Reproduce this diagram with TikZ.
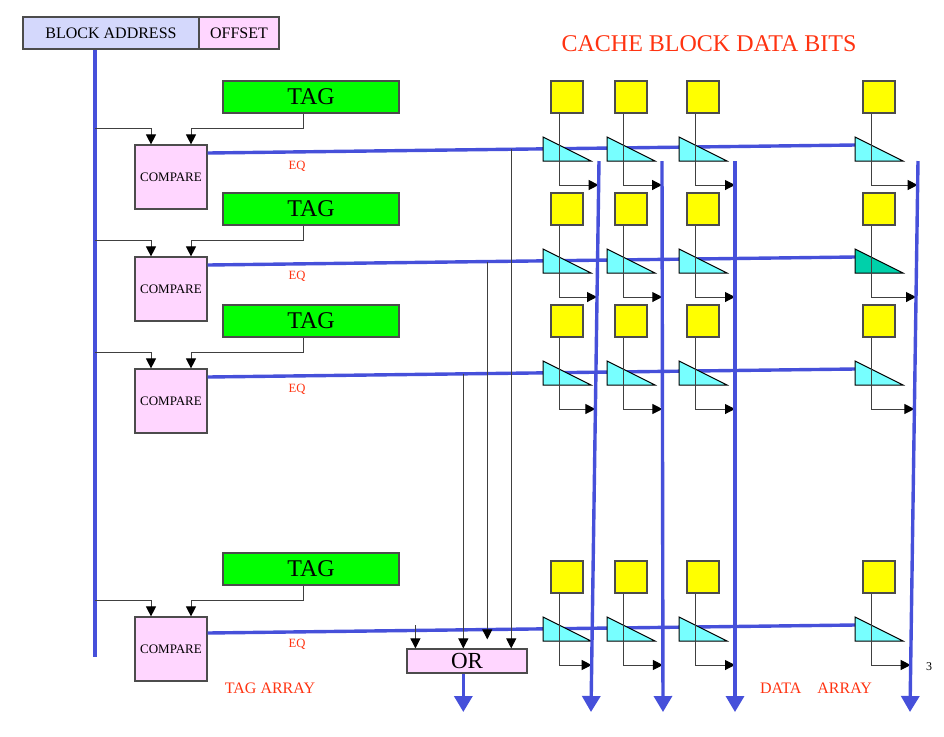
\documentclass[tikz,border=0pt]{standalone}
\usepackage{fontspec}
\setmainfont{Liberation Serif}
\usetikzlibrary{arrows.meta,calc}

\definecolor{busblue}{RGB}{70,80,218}
\definecolor{labelred}{RGB}{255,51,17}
\definecolor{addrfill}{RGB}{212,216,252}
\definecolor{pinkfill}{RGB}{255,214,255}
\definecolor{tagfill}{RGB}{0,255,0}
\definecolor{bitfill}{RGB}{255,255,0}
\definecolor{gatefill}{RGB}{119,255,255}
\definecolor{gatedark}{RGB}{0,208,170}

\tikzset{
  fieldbox/.style={draw=black!70, line width=0.6pt, inner sep=0pt},
  tagbox/.style={fieldbox, fill=tagfill, minimum width=88pt, minimum height=16pt, font=\fontsize{12}{12}\selectfont},
  cmpbox/.style={fieldbox, fill=pinkfill, minimum width=36pt, minimum height=32pt, font=\fontsize{6.5}{7}\selectfont},
  bitbox/.style={fieldbox, fill=bitfill, minimum size=16pt},
  gate/.style={draw=black, line width=0.5pt},
  bus/.style={draw=busblue, line width=1.7pt},
  sig/.style={draw=black!75, line width=0.5pt},
  sigtip/.style={-{Triangle[length=5pt,width=5pt,color=black]}},
  bustip/.style={-{Triangle[length=8pt,width=9pt]}},
  redtext/.style={text=labelred, inner sep=0pt},
}

\begin{document}
\begin{tikzpicture}[x=0.5pt, y=-0.5pt]
    \useasboundingbox (0,0) rectangle (944,736);
    % Address fields
    \node[fieldbox, fill=addrfill, minimum width=88pt, minimum height=16pt,
          font=\fontsize{8}{8}\selectfont] (addr) at (111,33) {BLOCK ADDRESS};
    \node[fieldbox, fill=pinkfill, minimum width=40pt, minimum height=16pt,
          font=\fontsize{8}{8}\selectfont] (offset) at (239,33) {OFFSET};
    % Address bus
    \coordinate (abus) at (95,657);
    \draw[bus] (addr.south -| abus) -- (abus);
    % Tag array rows: tag y / compare y / wire start y / wire end y / EQ y
    \foreach \row/\ty/\cy/\wy/\ey/\qy in {1/97/177/153/145/166, 2/209/289/265/257/276,
                                          3/321/401/377/369/389, 4/569/649/633/625/644} {
        \node[tagbox] (tag\row) at (311,\ty) {TAG};
        \node[cmpbox] (cmp\row) at (171,\cy) {COMPARE};
        \coordinate (br\row) at ([yshift=8pt]cmp\row.north);
        \draw[sig, sigtip] (br\row -| abus) -| ([xshift=-10pt]cmp\row.north);
        \draw[sig, sigtip] ([xshift=-4pt]tag\row.south) |- ([xshift=10pt]br\row)
            -- ([xshift=10pt]cmp\row.north);
        % EQ wire
        \coordinate (wl\row) at (cmp\row.east |- 0,\wy);
        \coordinate (wr\row) at (855,\ey);
        \draw[bus] (wl\row) -- (wr\row);
        \node[redtext, font=\fontsize{6.3}{6.3}\selectfont] (eq\row) at (297,\qy) {EQ};
    }
    % Data buses
    \foreach \col/\xt/\xb in {1/599/591, 2/662/663, 3/735/735, 4/918/910} {
        \coordinate (bt\col) at (\xt,161);
        \coordinate (bb\col) at (\xb,712);
    }
    % Data array cells
    \foreach \row/\d in {1/0, 2/112, 3/224, 4/480} {
        \foreach \col/\gx in {1/543, 2/607, 3/679, 4/855} {
            \node[bitbox] (bit\row\col) at (\gx+24,97+\d) {};
            \coordinate (g\row\col) at (\gx,137+\d);
            \coordinate (st\row\col) at (\gx+16,185+\d);
            \coordinate (tp\row\col) at ($(bt\col)!{(24+\d)/551}!(bb\col)$);
            \ifnum\row\col=24 \def\gf{gatedark}\else\def\gf{gatefill}\fi
            \draw[gate, fill=\gf] (g\row\col) -- ++(0,24) -- ++(48,0) -- cycle;
            \draw[sig] (bit\row\col.south -| st\row\col) -- (st\row\col);
            \draw[sig, sigtip] (st\row\col) -- (st\row\col -| tp\row\col);
        }
    }
    \foreach \col in {1,...,4}
        \draw[bus, bustip] (bt\col) -- (bb\col);
    % Hit logic
    \node[fieldbox, fill=pinkfill, minimum width=60pt, minimum height=12pt,
          font=\fontsize{11.5}{12}\selectfont] (or) at (467,661) {OR};
    \coordinate (tap1) at ($(wl1)!0.469!(wr1)$);
    \coordinate (tap2) at ($(wl2)!0.432!(wr2)$);
    \coordinate (tap3) at ($(wl3)!0.395!(wr3)$);
    \coordinate (tap4) at ($(wl4)!0.321!(wr4)$);
    \coordinate (or2) at ($(tap2 |- or.north)+(0,-9)$);
    \draw[sig, sigtip] (tap1) -- (tap1 |- or.north);
    \draw[sig, sigtip] (tap2) -- (or2);
    \draw[sig, sigtip] (tap3) -- (tap3 |- or.north);
    \draw[sig, sigtip] ($(tap4)+(0,-5)$) -- (tap4 |- or.north);
    \draw[bus, bustip] (or.south -| tap3) -- (tap3 |- 0,712);
    % Labels
    \node[redtext, font=\fontsize{12}{12}\selectfont] (title) at (709,44) {CACHE BLOCK DATA BITS};
    \node[redtext, font=\fontsize{8}{8}\selectfont] (tagarr) at (270,688) {TAG ARRAY};
    \node[redtext, font=\fontsize{8}{8}\selectfont] (dataarr) at (816,688) {DATA\quad ARRAY};
    \node[inner sep=0pt, font=\fontsize{6}{6}\selectfont] (page) at (929,667) {3};
\end{tikzpicture}
\end{document}
